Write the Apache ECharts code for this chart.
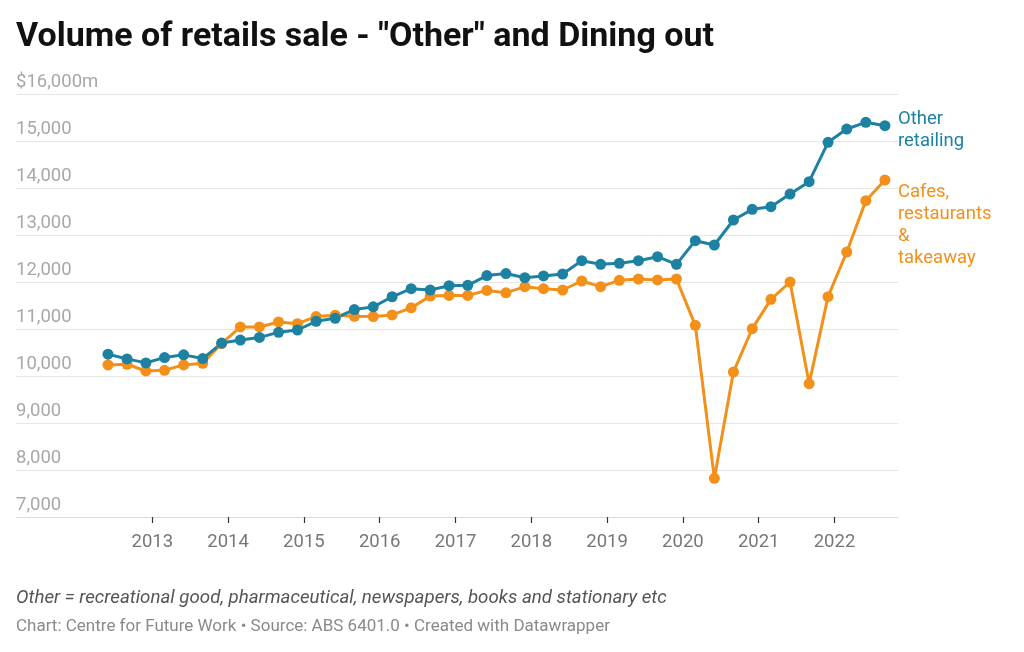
<!DOCTYPE html>
<html>
<head>
<meta charset="utf-8">
<script src="https://cdn.jsdelivr.net/npm/echarts@6/dist/echarts.min.js"></script>
<style>
html,body{margin:0;padding:0;background:#fff;}
#chart{width:1024px;height:652px;}
</style>
</head>
<body>
<div id="chart"></div>
<script>
// Quarterly dates (first day of quarter-end month)
const dates = [
  '2012-06','2012-09','2012-12',
  '2013-03','2013-06','2013-09','2013-12',
  '2014-03','2014-06','2014-09','2014-12',
  '2015-03','2015-06','2015-09','2015-12',
  '2016-03','2016-06','2016-09','2016-12',
  '2017-03','2017-06','2017-09','2017-12',
  '2018-03','2018-06','2018-09','2018-12',
  '2019-03','2019-06','2019-09','2019-12',
  '2020-03','2020-06','2020-09','2020-12',
  '2021-03','2021-06','2021-09','2021-12',
  '2022-03','2022-06','2022-09'
];
const otherRetailing = [
  10464,10364,10279,
  10393,10450,10371,10700,
  10764,10821,10929,10979,
  11164,11229,11414,11471,
  11686,11857,11829,11921,
  11929,12136,12180,12092,
  12128,12170,12454,12376,
  12397,12454,12539,12376,
  12879,12787,13319,13546,
  13603,13872,14135,14972,
  15255,15397,15326
];
const cafesRestaurants = [
  10236,10250,10107,
  10121,10236,10271,10690,
  11043,11043,11150,11114,
  11264,11293,11271,11264,
  11300,11450,11700,11714,
  11714,11821,11770,11901,
  11858,11830,12021,11901,
  12035,12064,12043,12064,
  11078,7823,10085,11007,
  11631,12000,9837,11688,
  12638,13730,14170
];
const yearTicks = [2013,2014,2015,2016,2017,2018,2019,2020,2021,2022];
const yTicks = [7000,8000,9000,10000,11000,12000,13000,14000,15000,16000];

function decYear(s){
  const [y,m] = s.split('-').map(Number);
  const a = Date.UTC(y,0,1), b = Date.UTC(y+1,0,1), t = Date.UTC(y,m-1,1);
  return y + (t-a)/(b-a);
}
const xs = dates.map(decYear);
const pairs = arr => arr.map((v,i)=>[xs[i], v]);

const TEAL = '#1d81a2';
const ORANGE = '#f39019';
const FONT = 'Roboto, "Noto Sans", sans-serif';

const chart = echarts.init(document.getElementById('chart'), null, {renderer:'canvas'});
chart.setOption({
  animation:false,
  backgroundColor:'#fff',
  textStyle:{fontFamily:FONT},
  title:[
    {text:'Volume of retails sale - "Other" and Dining out', left:11, top:15,
     textStyle:{fontFamily:FONT, fontSize:34, fontWeight:'bold', color:'#111'}},
    {text:'Other = recreational good, pharmaceutical, newspapers, books and stationary etc', left:11, top:584,
     textStyle:{fontFamily:FONT, fontSize:18.7, fontStyle:'italic', fontWeight:'normal', color:'#555'}},
    {text:'Chart: Centre for Future Work \u2022 Source: ABS 6401.0 \u2022 Created with Datawrapper', left:11, top:613,
     textStyle:{fontFamily:FONT, fontSize:17, fontWeight:'normal', color:'#8a8a8a'}}
  ],
  grid:{left:16, right:126, top:94, bottom:135},
  xAxis:{
    type:'value', min:2011.202, max:2022.838,
    splitLine:{show:false},
    axisLine:{show:true, lineStyle:{color:'#dcdcdc', width:1}},
    axisTick:{show:true, customValues:yearTicks, length:6, lineStyle:{color:'#333', width:1.2}},
    axisLabel:{show:true, customValues:yearTicks, margin:16, fontSize:18.5, color:'#777', fontFamily:FONT,
      formatter:v=>String(Math.round(v))}
  },
  yAxis:{
    type:'value', min:7000, max:16000, interval:1000,
    axisLine:{show:false}, axisTick:{show:false},
    splitLine:{show:true, lineStyle:{color:'#e6e6e6', width:1}},
    axisLabel:{inside:true, margin:0, verticalAlign:'bottom', padding:[0,0,2,0],
      fontSize:18.5, color:'#a8a8a8', fontFamily:FONT,
      formatter:v=> v===16000 ? '$16,000m' : v.toLocaleString('en-US')}
  },
  series:[
    {name:'Cafes, restaurants & takeaway', type:'line', data:pairs(cafesRestaurants),
     symbol:'circle', symbolSize:11, color:ORANGE,
     lineStyle:{width:3, color:ORANGE}, itemStyle:{color:ORANGE},
     endLabel:{show:true, formatter:'Cafes,\nrestaurants\n&\ntakeaway', color:ORANGE,
       fontSize:18.5, lineHeight:22, fontFamily:FONT, align:'left', verticalAlign:'top', distance:13, offset:[0,1]}
    },
    {name:'Other retailing', type:'line', data:pairs(otherRetailing),
     symbol:'circle', symbolSize:11, color:TEAL,
     lineStyle:{width:3, color:TEAL}, itemStyle:{color:TEAL},
     endLabel:{show:true, formatter:'Other\nretailing', color:TEAL,
       fontSize:18.5, lineHeight:22, fontFamily:FONT, align:'left', verticalAlign:'middle', distance:13, offset:[0,5]}
    }
  ]
});
</script>
</body>
</html>
